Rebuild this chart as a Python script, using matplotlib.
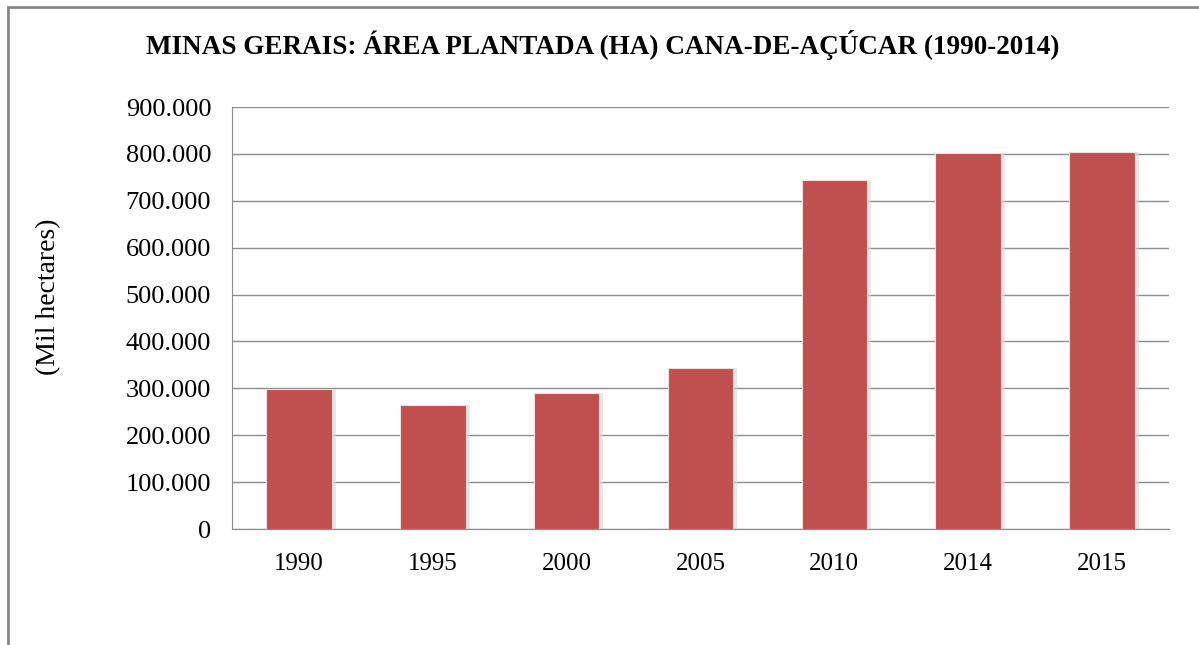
import matplotlib.pyplot as plt
import matplotlib.patches as mpatches
import numpy as np

plt.rcParams['font.family'] = ['Liberation Serif', 'DejaVu Serif']

# data
anos = ['1990', '1995', '2000', '2005', '2010', '2014', '2015']
area = [299000, 264000, 290000, 343000, 744000, 802000, 804000]

yticks = np.arange(0, 900001, 100000)
ytick_labels = ['0'] + [f"{v // 1000}.000" for v in yticks[1:]]

bar_color = '#C0504D'
grid_color = '#8C8C8C'

fig = plt.figure(figsize=(11.99, 6.45), dpi=100)

# outer frame like the spreadsheet chart area
frame = mpatches.Rectangle((8 / 1199, -0.02), 1.2, 1 - 7 / 645 + 0.02,
                           transform=fig.transFigure, fill=False,
                           edgecolor='#878787', linewidth=2.0)
fig.patches.append(frame)

ax = fig.add_axes([232 / 1199, 1 - 529 / 645, (1169 - 232) / 1199, (529 - 107) / 645])

x = np.arange(len(anos))
width = 0.49

# faint shadow behind the bars
ax.bar(x + 0.015, area, width + 0.03, color='#D9D9D9', alpha=0.6, zorder=2)
ax.bar(x, area, width, color=bar_color, edgecolor='#F2DCDB', linewidth=0.8, zorder=3)

ax.set_xlim(-0.5, len(anos) - 0.5)
ax.set_ylim(0, 900000)
ax.set_yticks(yticks)
ax.set_yticklabels(ytick_labels)
ax.set_xticks(x)
ax.set_xticklabels(anos)

ax.grid(axis='y', color=grid_color, linewidth=1.0, zorder=0)
ax.set_axisbelow(True)

for side in ['top', 'right']:
    ax.spines[side].set_visible(False)
ax.spines['left'].set_color(grid_color)
ax.spines['bottom'].set_color(grid_color)
ax.tick_params(axis='both', length=0)
ax.tick_params(axis='y', labelsize=19, pad=15)
ax.tick_params(axis='x', labelsize=18, pad=17)

ax.set_ylabel('(Mil hectares)', fontsize=20)
ax.yaxis.set_label_coords(-0.182, 0.55)

fig.text(603 / 1199, 1 - 45 / 645,
         'MINAS GERAIS: ÁREA PLANTADA (HA) CANA-DE-AÇÚCAR (1990-2014)',
         ha='center', va='center', fontsize=19.5, fontweight='bold')

fig.savefig('out.png', dpi=100)
